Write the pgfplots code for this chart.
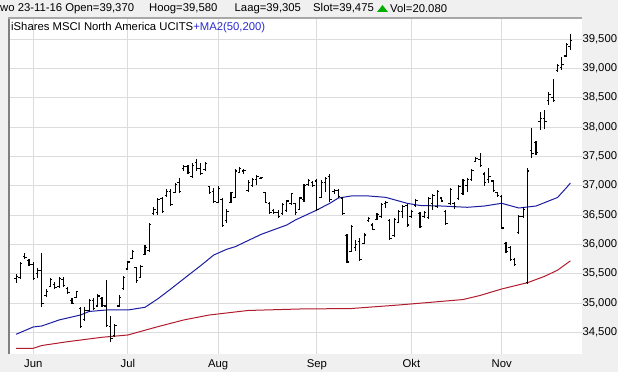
\documentclass[border=0pt]{standalone}
\usepackage{fontspec}
\setmainfont{Liberation Sans}
\usepackage{pgfplots}
\usepackage{pgfplotstable}
\pgfplotsset{compat=1.18}
\definecolor{bg}{HTML}{F0F0F0}
\definecolor{gridc}{HTML}{DCDCDC}
\definecolor{ma50}{HTML}{1C1CA0}
\definecolor{ma200}{HTML}{B01C2C}
\definecolor{titleblue}{HTML}{2B2BD0}
\definecolor{upgreen}{HTML}{00B000}
\definecolor{frameA}{HTML}{808080}
\definecolor{frameB}{HTML}{A8A8A8}

\pgfplotstableread{
i o h l c
-4 35420 35496 35338 35450
-3 35430 35706 35406 35680
-2 35800 35849 35747 35780
-1 35720 35747 35632 35650
0 35650 35706 35394 35420
1 35500 35593 35423 35560
2 35560 35859 34929 35000
3 35130 35235 35109 35200
4 35290 35423 35270 35400
5 35320 35365 35235 35260
6 35280 35443 35256 35420
7 35400 35443 35270 35300
8 35250 35269 35155 35180
9 35050 35082 34985 35000
10 35100 35212 35082 35190
11 34900 34929 34571 34600
12 34720 34929 34701 34880
13 34870 35065 34854 35040
14 35050 35082 34882 34900
15 34950 35155 34929 35120
16 35080 35099 34929 34960
17 34950 35394 34598 34620
18 34600 34777 34334 34400
19 34450 34650 34423 34620
20 34950 35139 34929 35100
21 35250 35462 35223 35440
22 35580 35723 35564 35700
23 35760 35905 35747 35880
24 35600 35620 35347 35380
25 35440 35649 35422 35620
26 35830 35990 35819 35950
27 35900 36370 35876 36340
28 36520 36642 36501 36600
29 36540 36786 36501 36760
30 36780 36813 36530 36560
31 36830 36939 36813 36900
32 36900 36939 36654 36680
33 36880 37051 36871 37020
34 37050 37126 36871 36900
35 37300 37353 37256 37320
36 37330 37353 37200 37230
37 37150 37382 37126 37350
38 37400 37450 37256 37300
39 37300 37392 37183 37210
40 37280 37409 37256 37380
41 36980 36995 36859 36880
42 36900 36956 36711 36730
43 36720 36995 36700 36950
44 36760 36786 36291 36320
45 36400 36598 36370 36560
46 36720 36898 36700 36880
47 36800 37280 36786 37250
48 37230 37324 37212 37300
49 37250 37280 37200 37260
50 36920 37097 36898 37050
51 37000 37126 36983 37100
52 37100 37183 37012 37150
53 37120 37154 37109 37140
54 36880 36898 36700 36720
55 36700 36728 36513 36540
56 36580 36598 36518 36540
57 36550 36586 36445 36480
58 36520 36711 36501 36680
59 36580 36757 36557 36740
60 36700 36881 36671 36860
61 36690 36711 36501 36540
62 36600 36813 36586 36790
63 36760 37024 36728 37000
64 37020 37114 37000 37090
65 37060 37080 36983 37000
66 37080 37114 36569 36600
67 36800 37097 36786 37060
68 37050 37154 36898 37120
69 37150 37194 36728 36760
70 36900 36944 36854 36920
71 36920 36944 36786 36820
72 36790 36813 36501 36520
73 36150 36172 35678 35700
74 35880 36331 35865 36300
75 35950 36075 35888 36000
76 36050 36104 35717 35750
77 36020 36189 36002 36160
78 36400 36472 36377 36440
79 36330 36360 36245 36260
80 36430 36530 36416 36510
81 36470 36700 36455 36680
82 36700 36740 36625 36720
83 36400 36433 36075 36100
84 36150 36445 36131 36420
85 36380 36586 36360 36560
86 36560 36671 36445 36640
87 36660 36683 36302 36330
88 36480 36586 36455 36560
89 36660 36774 36642 36750
90 36520 36547 36274 36300
91 36480 36569 36455 36540
92 36460 36813 36433 36780
93 36700 36854 36586 36830
94 36640 36927 36615 36900
95 36790 36813 36717 36740
96 36560 36586 36331 36350
97 36700 36956 36671 36930
98 36700 36728 36603 36640
99 36780 37012 36757 36990
100 36870 37114 36842 37090
101 37000 37126 36898 37100
102 37100 37285 37080 37260
103 37420 37494 37399 37470
104 37450 37552 37324 37350
105 37200 37239 37000 37050
106 37100 37297 37041 37150
107 37080 37097 36888 36920
108 36880 36898 36813 36840
109 36820 36842 36262 36280
110 36020 36046 35848 35880
111 35950 35978 35717 35740
112 35740 35763 35637 35660
113 36200 36501 36172 36480
114 36480 36642 36455 36600
115 35350 37307 35320 37250
116 37600 37978 37477 37550
117 37740 37762 37523 37560
118 38100 38251 37949 38150
119 38150 38290 37966 38100
120 38450 38602 38375 38550
121 38500 38818 38421 38450
122 38960 39069 38943 39050
123 39020 39198 38972 39060
124 39210 39427 39198 39400
125 39370 39580 39305 39475
}\ohlc

\pgfplotstableread{
i v
-4 34468
0 34593
2 34610
6 34712
11 34797
13 34857
17 34882
22 34882
26 34928
29 35073
32 35240
36 35470
39 35640
42 35819
45 35916
47 35961
53 36170
59 36331
61 36416
66 36586
69 36700
71 36790
74 36825
78 36825
82 36802
87 36700
90 36663
95 36654
101 36632
105 36654
109 36700
113 36620
117 36654
122 36799
124 36960
125 37045
}\maA

\pgfplotstableread{
i v
-4 34230
0 34230
2 34277
8 34342
16 34417
22 34456
29 34598
35 34712
41 34797
50 34874
62 34899
74 34907
85 34967
92 35010
100 35060
104 35130
109 35240
115 35347
119 35456
122 35560
125 35720
}\maB

\begin{document}
\begin{tikzpicture}[x=1bp,y=1bp]
\fill[bg] (0,0) rectangle (618,372);
\useasboundingbox (0,0) rectangle (618,372);
\begin{axis}[
  at={(10bp,18bp)}, anchor=south west,
  width=572bp, height=336bp, scale only axis,
  xmin=-5.42, xmax=127.7,
  ymin=34132, ymax=39858,
  axis background/.style={fill=white},
  axis line style={draw=none},
  xtick={0,22,43,66,88,109},
  xticklabels={Jun,Jul,Aug,Sep,Okt,Nov},
  ytick={34500,35000,...,39500},
  yticklabel pos=right,
  scaled y ticks=false,
  grid=major,
  grid style={gridc, line width=0.8bp},
  major tick length=0pt,
  tick label style={font=\fontsize{11.3bp}{13bp}\selectfont},
  yticklabel style={anchor=west, xshift=-3bp},
  xticklabel style={yshift=-2bp},
  /pgf/number format/fixed,
  /pgf/number format/1000 sep={,},
  /pgf/number format/assume math mode=true,
]
\addplot[ma200, line width=1bp, mark=none] table[x=i, y=v] {\maB};
\addplot[ma50, line width=1bp, mark=none] table[x=i, y=v] {\maA};
\addplot[only marks, mark size=0pt, mark options={draw=none, fill=none},
  error bars/.cd, y dir=both, y explicit, error mark=none,
  error bar style={draw=black, line width=1.1bp}]
  table[x=i, y expr={(\thisrow{h}+\thisrow{l})/2}, y error expr={(\thisrow{h}-\thisrow{l})/2}] {\ohlc};
\addplot[only marks, mark size=0pt, mark options={draw=none, fill=none},
  error bars/.cd, x dir=minus, x fixed=0.45, error mark=none,
  error bar style={draw=black, line width=1.1bp}]
  table[x=i, y=o] {\ohlc};
\addplot[only marks, mark size=0pt, mark options={draw=none, fill=none},
  error bars/.cd, x dir=plus, x fixed=0.45, error mark=none,
  error bar style={draw=black, line width=1.1bp}]
  table[x=i, y=c] {\ohlc};
\end{axis}
\draw[frameA, line width=2bp] (9,18) -- (9,355);
\draw[frameB, line width=1.2bp] (8,354) -- (582,354);
\begin{scope}[every node/.style={anchor=west, inner sep=0pt, font=\fontsize{11.3bp}{13bp}\selectfont}]
\node at (0,363.5) {wo 23-11-16 Open=39,370};
\node at (149,363.5) {Hoog=39,580};
\node at (234.5,363.5) {Laag=39,305};
\node at (313,363.5) {Slot=39,475};
\node at (390,363.5) {Vol=20.080};
\node at (11,344) {iShares MSCI North America UCITS\textcolor{titleblue}{+MA2(50,200)}};
\end{scope}
\fill[upgreen] (377,360) -- (388,360) -- (382.5,367) -- cycle;
\end{tikzpicture}
\end{document}
